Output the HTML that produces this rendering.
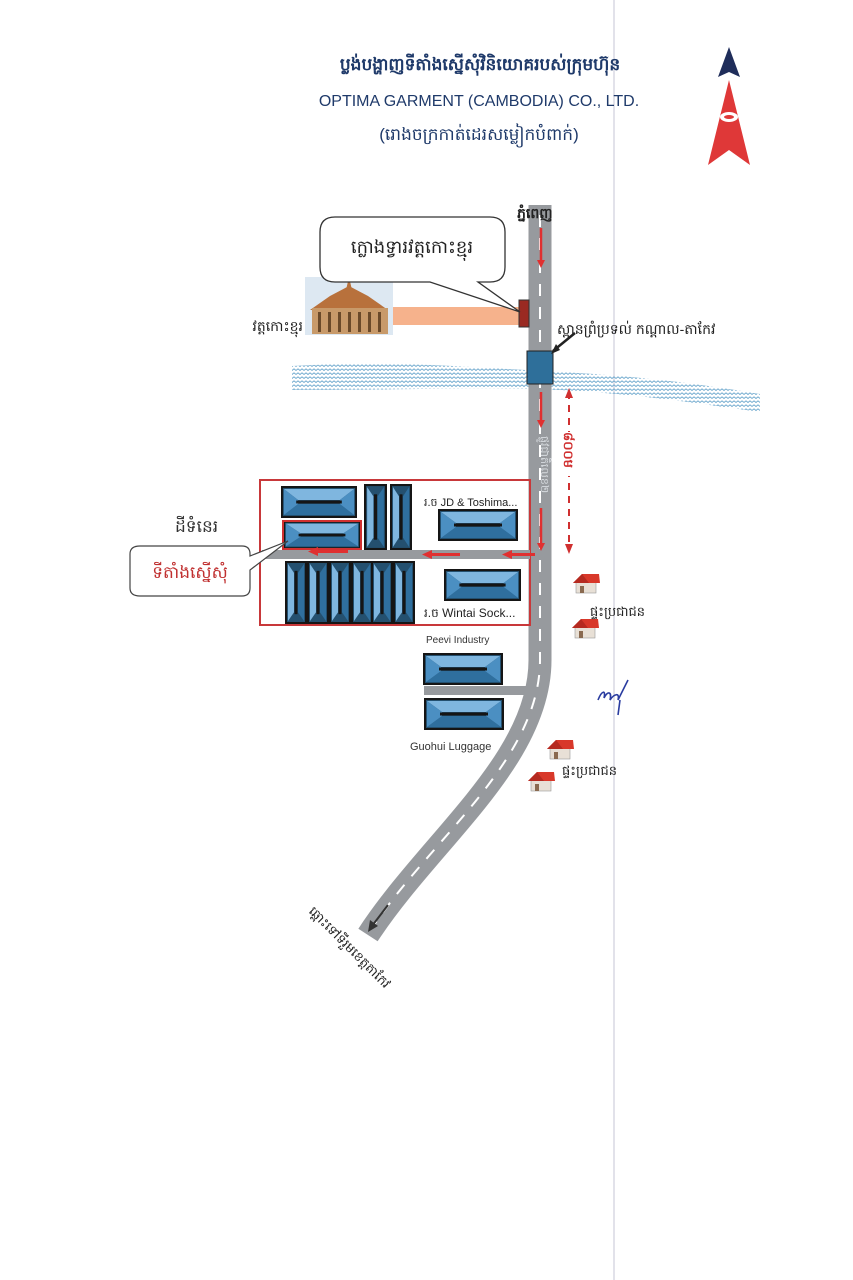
<!DOCTYPE html>
<html><head><meta charset="utf-8"><style>
html,body{margin:0;padding:0;background:#fff;width:853px;height:1280px;overflow:hidden}
svg{display:block}
text{font-family:"Liberation Sans","Noto Sans CJK SC",sans-serif}
</style></head><body>
<svg width="853" height="1280" viewBox="0 0 853 1280" xmlns="http://www.w3.org/2000/svg">
<defs>
<symbol id="bh" viewBox="0 0 80 32" preserveAspectRatio="none">
<rect x="1" y="1" width="78" height="30" fill="#24506f" stroke="#151515" stroke-width="2"/>
<polygon points="3,3 77,3 62,14 18,14" fill="#7fb6df"/>
<polygon points="18,18 62,18 77,29 3,29" fill="#2f6f9e"/>
<polygon points="3,3 18,14 18,18 3,29" fill="#4b8fc2"/>
<polygon points="77,3 62,14 62,18 77,29" fill="#4b8fc2"/>
<line x1="16" y1="16" x2="64" y2="16" stroke="#151515" stroke-width="3"/>
</symbol>
<symbol id="bv" viewBox="0 0 22 64" preserveAspectRatio="none">
<rect x="1" y="1" width="20" height="62" fill="#24506f" stroke="#151515" stroke-width="2"/>
<polygon points="3,3 3,61 9,52 9,12" fill="#7fb6df"/>
<polygon points="19,3 19,61 13,52 13,12" fill="#2f6f9e"/>
<line x1="11" y1="10" x2="11" y2="54" stroke="#151515" stroke-width="3"/>
</symbol>
<symbol id="house" viewBox="0 0 30 22">
<rect x="5" y="10" width="20" height="11" fill="#e8e0d6" stroke="#999" stroke-width="0.6"/>
<polygon points="2,11 11,2 28,2 29,11" fill="#d8382a"/>
<polygon points="2,11 11,2 18,11" fill="#b52a20"/>
<rect x="9" y="14" width="4" height="7" fill="#8a6a50"/>
</symbol>
<pattern id="wave" width="8" height="4" patternUnits="userSpaceOnUse">
<path d="M0,2.5 L2,0.8 L4,2.5 L6,0.8 L8,2.5" fill="none" stroke="#6aa6cc" stroke-width="0.9"/>
</pattern>
</defs>

<line x1="614" y1="0" x2="614" y2="1280" stroke="#e2e2ea" stroke-width="2"/>

<text x="480" y="70" font-size="17" font-weight="bold" fill="#1f3a6a" text-anchor="middle">ប្លង់បង្ហាញទីតាំងស្នើសុំវិនិយោគរបស់ក្រុមហ៊ុន</text>
<text x="479" y="106" font-size="16" fill="#1f3a6a" text-anchor="middle">OPTIMA GARMENT (CAMBODIA) CO., LTD.</text>
<text x="479" y="140" font-size="17" fill="#1f3a6a" text-anchor="middle">(រោងចក្រកាត់ដេរសម្លៀកបំពាក់)</text>

<polygon points="729,47 718,77 729,72 740,77" fill="#1f2d5a"/>
<polygon points="729,80 708,165 729,150 750,165" fill="#df3838"/>
<ellipse cx="729" cy="117" rx="9" ry="5" fill="#fff"/>
<ellipse cx="729" cy="117" rx="5" ry="2" fill="#df3838"/>

<path d="M292,366 C400,360 480,368 560,372 C640,376 700,384 760,394 L760,412 C700,404 640,394 560,390 C480,387 400,390 292,390 Z" fill="url(#wave)"/>

<rect x="390" y="307" width="130" height="18" fill="#f6b28c"/>
<rect x="305" y="277" width="88" height="58" fill="#dde8f2"/>
<polygon points="310,310 330,296 349,286 368,296 388,310" fill="#b8713c"/>
<polygon points="346,290 349,277 352,290" fill="#b8713c"/>
<rect x="312" y="308" width="76" height="26" fill="#c89a6a"/>
<g fill="#6b4a2a"><rect x="318" y="312" width="3" height="20"/><rect x="328" y="312" width="3" height="20"/><rect x="338" y="312" width="3" height="20"/><rect x="348" y="312" width="3" height="20"/><rect x="358" y="312" width="3" height="20"/><rect x="368" y="312" width="3" height="20"/><rect x="378" y="312" width="3" height="20"/></g>
<text x="303" y="331" font-size="14" fill="#222" text-anchor="end">វត្តកោះខ្មុរ</text>

<path d="M540,205 L540,660 C540,760 430,840 368,935" fill="none" stroke="#979a9e" stroke-width="23"/>
<path d="M540,215 L540,660 C540,760 430,840 372,928" fill="none" stroke="#fff" stroke-width="2" stroke-dasharray="12,11"/>
<line x1="388" y1="905" x2="372" y2="926" stroke="#333" stroke-width="2"/>
<polygon points="368,932 370,920 378,926" fill="#333"/>

<rect x="519" y="300" width="10" height="27" fill="#9a2a22" stroke="#333" stroke-width="1"/>
<rect x="527" y="351" width="26" height="33" fill="#2e6f9a" stroke="#222" stroke-width="1"/>
<line x1="575" y1="333" x2="553" y2="351" stroke="#222" stroke-width="2.5"/>
<polygon points="551,354 556,344 560,350" fill="#222"/>
<text x="557" y="334" font-size="14" fill="#222">ស្ពានព្រំប្រទល់ កណ្ដាល-តាកែវ</text>
<text x="517" y="218" font-size="14" font-weight="bold" fill="#222">ភ្នំពេញ</text>

<path d="M335,217 L490,217 Q505,217 505,232 L505,267 Q505,282 490,282 L478,282 L520,312 L430,282 L335,282 Q320,282 320,267 L320,232 Q320,217 335,217 Z" fill="#fff" stroke="#333" stroke-width="1.3"/>
<text x="412" y="253" font-size="18" fill="#222" text-anchor="middle">ក្លោងទ្វារវត្តកោះខ្មុរ</text>

<g stroke="#e03030" stroke-width="2.5" fill="#e03030">
<line x1="541" y1="228" x2="541" y2="262"/><polygon points="537,260 545,260 541,268" stroke="none"/>
<line x1="541" y1="392" x2="541" y2="422"/><polygon points="537,420 545,420 541,428" stroke="none"/>
<line x1="541" y1="508" x2="541" y2="545"/><polygon points="537,543 545,543 541,551" stroke="none"/>
</g>
<text transform="translate(541,436) rotate(90)" font-size="11" fill="#d8dce0">ផ្លូវជាតិលេខ២</text>
<line x1="569" y1="392" x2="569" y2="548" stroke="#d03030" stroke-width="2" stroke-dasharray="7,6"/>
<polygon points="565,398 573,398 569,388" fill="#d03030"/>
<polygon points="565,544 573,544 569,554" fill="#d03030"/>
<rect x="562" y="432" width="14" height="44" fill="#fff"/>
<text transform="translate(564,432) rotate(90)" font-size="13" font-weight="bold" fill="#d03030">៨០០ម</text>

<rect x="260" y="480" width="270" height="145" fill="none" stroke="#c8383a" stroke-width="2"/>
<rect x="262" y="550" width="268" height="9" fill="#979a9e"/>
<rect x="424" y="686" width="108" height="9" fill="#979a9e"/>

<use href="#bh" x="281" y="486" width="76" height="32"/>
<use href="#bh" x="283" y="521" width="78" height="28"/>
<rect x="283" y="521" width="78" height="28" fill="none" stroke="#d03030" stroke-width="2"/>
<use href="#bv" x="364" y="484" width="23" height="66"/>
<use href="#bv" x="390" y="484" width="22" height="66"/>
<use href="#bh" x="438" y="509" width="80" height="32"/>
<use href="#bv" x="285" y="561" width="22" height="63"/>
<use href="#bv" x="307" y="561" width="22" height="63"/>
<use href="#bv" x="329" y="561" width="22" height="63"/>
<use href="#bv" x="351" y="561" width="22" height="63"/>
<use href="#bv" x="371" y="561" width="22" height="63"/>
<use href="#bv" x="393" y="561" width="22" height="63"/>
<use href="#bh" x="444" y="569" width="77" height="32"/>
<use href="#bh" x="423" y="653" width="80" height="32"/>
<use href="#bh" x="424" y="698" width="80" height="32"/>

<g fill="#e03030">
<rect x="510" y="553" width="25" height="3"/><polygon points="502,554.5 512,550 512,559"/>
<rect x="430" y="553" width="30" height="3"/><polygon points="422,554.5 432,550 432,559"/>
<rect x="318" y="550" width="30" height="3"/><polygon points="308,551.5 318,547 318,556"/>
</g>

<text x="424" y="506" font-size="11" fill="#222"> រ.ច JD &amp; Toshima...</text>
<text x="424" y="617" font-size="12" fill="#222">រ.ច Wintai Sock...</text>
<text x="426" y="643" font-size="10" fill="#333">Peevi Industry</text>
<text x="410" y="750" font-size="11" fill="#333">Guohui Luggage</text>

<text x="175" y="532" font-size="17" fill="#333">ដីទំនេរ</text>
<path d="M140,546 L242,546 Q250,546 250,554 L250,556 L288,541 L250,570 L250,588 Q250,596 242,596 L140,596 Q130,596 130,588 L130,554 Q130,546 140,546 Z" fill="#fff" stroke="#444" stroke-width="1.2"/>
<text x="190" y="578" font-size="17" fill="#c03030" text-anchor="middle">ទីតាំងស្នើសុំ</text>

<use href="#house" x="571" y="572" width="30" height="22"/>
<use href="#house" x="570" y="617" width="30" height="22"/>
<use href="#house" x="545" y="738" width="30" height="22"/>
<use href="#house" x="526" y="770" width="30" height="22"/>
<text x="590" y="616" font-size="13" fill="#222">ផ្ទះប្រជាជន</text>
<text x="562" y="775" font-size="13" fill="#222">ផ្ទះប្រជាជន</text>

<path d="M598,700 C602,690 606,690 604,698 C608,690 612,692 610,700 C614,694 620,692 618,700 L628,680 M620,700 L618,715" fill="none" stroke="#2a3ca0" stroke-width="1.6"/>

<text transform="translate(308,912) rotate(45)" font-size="13" fill="#222">ឆ្ពោះទៅទីរួមខេត្តតាកែវ</text>
</svg>
</body></html>
